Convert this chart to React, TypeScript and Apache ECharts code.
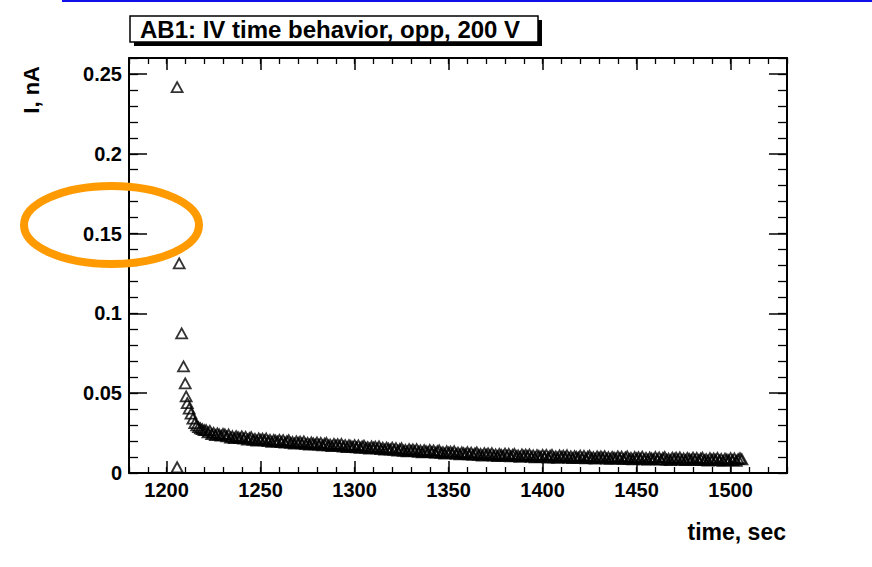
import { useEffect, useRef } from "react";
import * as echarts from "echarts";

// first readings after the voltage ramp (time in s, current in nA)
const earlyTimes = [1205.6, 1205.6, 1206.7, 1208.0, 1209.0, 1209.9, 1210.4];
const earlyCurrent = [0.0036, 0.2417, 0.1313, 0.0875, 0.0668, 0.0562, 0.048];

// then one reading per second starting at this time
const denseStartTime = 1211;
const denseCurrent = [
  0.0438, 0.0403, 0.0372, 0.034, 0.0313, 0.0298, 0.0287, 0.028, 0.0274, 0.0268,
  0.0268, 0.0254, 0.0264, 0.0244, 0.0251, 0.0237, 0.0248, 0.0241, 0.0234, 0.0245,
  0.0242, 0.0229, 0.0241, 0.0222, 0.023, 0.0218, 0.023, 0.0224, 0.0218, 0.0229,
  0.0215, 0.0226, 0.0209, 0.0219, 0.0225, 0.0208, 0.0213, 0.0203, 0.0217, 0.0208,
  0.0215, 0.0204, 0.0216, 0.0199, 0.0207, 0.0195, 0.0208, 0.0202, 0.0196, 0.0208,
  0.0194, 0.0206, 0.019, 0.02, 0.0205, 0.0189, 0.0194, 0.0184, 0.0198, 0.0189,
  0.0196, 0.0186, 0.0198, 0.0181, 0.0189, 0.0177, 0.0191, 0.0185, 0.0179, 0.0191,
  0.0177, 0.0189, 0.0173, 0.0183, 0.0188, 0.0173, 0.0178, 0.0168, 0.0182, 0.0173,
  0.0181, 0.017, 0.0182, 0.0165, 0.0174, 0.0162, 0.0175, 0.0169, 0.0163, 0.0175,
  0.0161, 0.0173, 0.0157, 0.0167, 0.0172, 0.0157, 0.0162, 0.0152, 0.0166, 0.0158,
  0.0165, 0.0154, 0.0166, 0.0149, 0.0158, 0.0146, 0.0159, 0.0153, 0.0147, 0.0159,
  0.0145, 0.0156, 0.014, 0.015, 0.0155, 0.0139, 0.0145, 0.0135, 0.0149, 0.014,
  0.0148, 0.0137, 0.0149, 0.0133, 0.0141, 0.0129, 0.0143, 0.0137, 0.0131, 0.0144,
  0.013, 0.0141, 0.0126, 0.0136, 0.0141, 0.0126, 0.0131, 0.0121, 0.0136, 0.0127,
  0.0134, 0.0124, 0.0136, 0.0119, 0.0128, 0.0116, 0.0129, 0.0124, 0.0118, 0.013,
  0.0117, 0.0128, 0.0113, 0.0123, 0.0129, 0.0113, 0.0119, 0.0109, 0.0124, 0.0115,
  0.0123, 0.0112, 0.0125, 0.0108, 0.0117, 0.0106, 0.0119, 0.0114, 0.0108, 0.0121,
  0.0108, 0.0119, 0.0104, 0.0114, 0.012, 0.0105, 0.011, 0.0101, 0.0116, 0.0107,
  0.0115, 0.0105, 0.0117, 0.0101, 0.011, 0.0098, 0.0112, 0.0107, 0.0101, 0.0114,
  0.0101, 0.0113, 0.0097, 0.0108, 0.0114, 0.0098, 0.0104, 0.0095, 0.011, 0.0101,
  0.0109, 0.0099, 0.0111, 0.0095, 0.0104, 0.0093, 0.0106, 0.0101, 0.0096, 0.0109,
  0.0095, 0.0107, 0.0092, 0.0103, 0.0108, 0.0093, 0.0099, 0.009, 0.0104, 0.0096,
  0.0104, 0.0094, 0.0106, 0.009, 0.0099, 0.0088, 0.0101, 0.0096, 0.0091, 0.0104,
  0.0091, 0.0102, 0.0087, 0.0098, 0.0104, 0.0088, 0.0094, 0.0085, 0.01, 0.0092,
  0.0099, 0.0089, 0.0102, 0.0086, 0.0095, 0.0083, 0.0097, 0.0092, 0.0087, 0.01,
  0.0086, 0.0098, 0.0083, 0.0094, 0.01, 0.0084, 0.009, 0.0081, 0.0096, 0.0088,
  0.0096, 0.0085, 0.0098, 0.0082, 0.0091, 0.008, 0.0094, 0.0088, 0.0083, 0.0096,
  0.0083, 0.0095, 0.008, 0.009, 0.0096, 0.0081, 0.0087, 0.0078, 0.0093, 0.0084,
  0.0092, 0.0082, 0.0095, 0.0079, 0.0088, 0.0076, 0.009, 0.0085, 0.008, 0.0093,
  0.008, 0.0092, 0.0076, 0.0087, 0.0093, 0.0086,
];

const xTickLabels = [1200, 1250, 1300, 1350, 1400, 1450, 1500];
const yTickLabels = [0, 0.05, 0.1, 0.15, 0.2, 0.25];

const titleText = "AB1: IV time behavior, opp, 200 V";
const xTitle = "time, sec";
const yTitle = "I, nA";

export default function App() {
  const ref = useRef<HTMLDivElement>(null);

  useEffect(() => {
    if (!ref.current) return;
    const chart = echarts.init(ref.current, null, { renderer: "svg" });
    const font = "'Liberation Sans', Arial, Helvetica, sans-serif";

    const points: number[][] = [
      ...earlyTimes.map((t, i) => [t, earlyCurrent[i]]),
      ...denseCurrent.map((v, i) => [denseStartTime + i, v]),
    ];

    const X_MIN = 1180;
    const X_MAX = 1530;
    const Y_MIN = 0;
    const Y_MAX = 0.26;

    const majorAxis = (
      min: number,
      max: number,
      ticks: number[],
      position: string,
      len: number,
      labels: boolean
    ) => ({
      type: "value",
      min,
      max,
      position,
      axisLine: { show: true, onZero: false, lineStyle: { color: "#000", width: 2 } },
      axisTick: {
        show: true,
        inside: true,
        length: len,
        customValues: ticks,
        lineStyle: { color: "#000", width: 1.5 },
      },
      axisLabel: labels
        ? {
            show: true,
            customValues: ticks,
            formatter: (v: number) => String(v),
            color: "#000",
            fontFamily: font,
            fontWeight: "bold",
            fontSize: 20,
            margin: 7,
          }
        : { show: false },
      splitLine: { show: false },
    });

    const minorAxis = (min: number, max: number, interval: number, position: string, len: number) => ({
      type: "value",
      min,
      max,
      interval,
      position,
      axisLine: { show: false, onZero: false },
      axisTick: { show: true, inside: true, length: len, lineStyle: { color: "#000", width: 1.3 } },
      axisLabel: { show: false },
      splitLine: { show: false },
    });

    chart.setOption({
      animation: false,
      backgroundColor: "#fff",
      grid: { left: 129, top: 58, right: 85, bottom: 94, containLabel: false },
      xAxis: [
        majorAxis(X_MIN, X_MAX, xTickLabels, "bottom", 12, true),
        minorAxis(X_MIN, X_MAX, 10, "bottom", 6),
        majorAxis(X_MIN, X_MAX, xTickLabels, "top", 12, false),
        minorAxis(X_MIN, X_MAX, 10, "top", 6),
      ],
      yAxis: [
        majorAxis(Y_MIN, Y_MAX, yTickLabels, "left", 18, true),
        minorAxis(Y_MIN, Y_MAX, 0.01, "left", 9),
        majorAxis(Y_MIN, Y_MAX, yTickLabels, "right", 18, false),
        minorAxis(Y_MIN, Y_MAX, 0.01, "right", 9),
      ],
      series: [
        {
          type: "scatter",
          xAxisIndex: 0,
          yAxisIndex: 0,
          data: points,
          symbol: "triangle",
          symbolSize: [11, 10],
          itemStyle: { color: "rgba(0,0,0,0)", borderColor: "#000", borderWidth: 1.8 },
          silent: true,
        },
      ],
      graphic: [
        {
          type: "line",
          shape: { x1: 62, y1: 1, x2: 872, y2: 1 },
          style: { stroke: "#1010e8", lineWidth: 2 },
        },
        {
          type: "rect",
          shape: { x: 134, y: 20, width: 408, height: 26 },
          style: { fill: "#000" },
        },
        {
          type: "rect",
          shape: { x: 130, y: 16, width: 408, height: 26 },
          style: { fill: "#fff", stroke: "#000", lineWidth: 1.5 },
        },
        {
          type: "text",
          x: 140,
          y: 29,
          style: {
            text: titleText,
            fill: "#000",
            font: `bold 24px ${font}`,
            textAlign: "left",
            textVerticalAlign: "middle",
          },
        },
        {
          type: "text",
          x: 31,
          y: 66,
          rotation: Math.PI / 2,
          style: {
            text: yTitle,
            fill: "#000",
            font: `bold 22px ${font}`,
            textAlign: "right",
            textVerticalAlign: "middle",
          },
        },
        {
          type: "text",
          x: 786,
          y: 532,
          style: {
            text: xTitle,
            fill: "#000",
            font: `bold 23px ${font}`,
            textAlign: "right",
            textVerticalAlign: "middle",
          },
        },
        {
          type: "ellipse",
          shape: { cx: 111.5, cy: 225, rx: 87.5, ry: 39 },
          style: { fill: "none", stroke: "#ff9a00", lineWidth: 8 },
          z: 100,
        },
      ],
    });

    return () => chart.dispose();
  }, []);

  return (
    <div
      ref={ref}
      style={{ position: "fixed", left: 0, top: 0, width: 872, height: 567, background: "#fff" }}
    />
  );
}
